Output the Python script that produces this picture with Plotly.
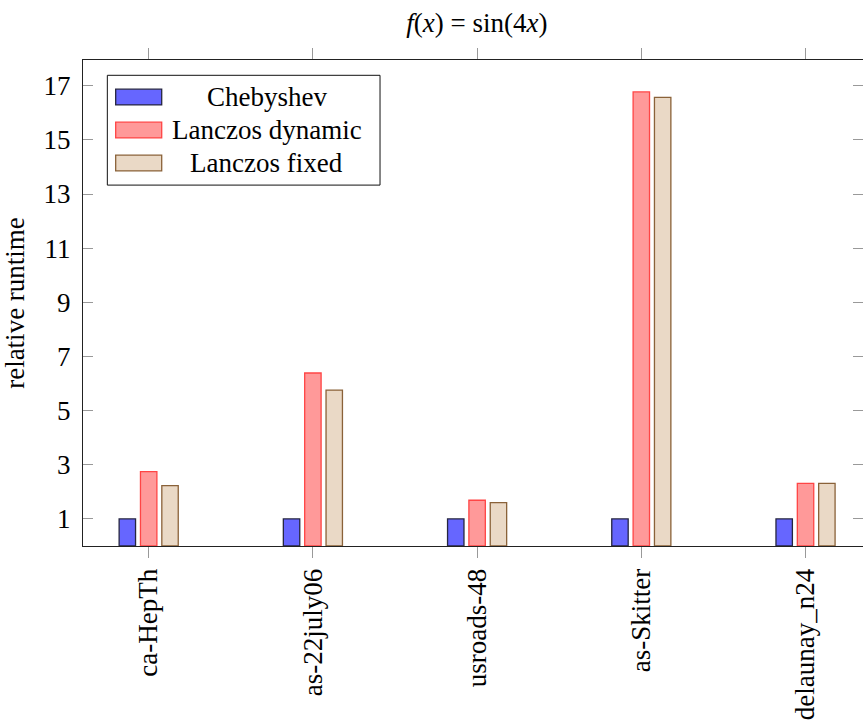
import plotly.graph_objects as go

categories = ["ca-HepTh", "as-22july06", "usroads-48", "as-Skitter", "delaunay_n24"]
series_names = ["Chebyshev", "Lanczos dynamic", "Lanczos fixed"]
chebyshev = [1.0, 1.0, 1.0, 1.0, 1.0]
lanczos_dynamic = [2.75, 6.39, 1.69, 16.77, 2.31]
lanczos_fixed = [2.23, 5.76, 1.60, 16.57, 2.31]
y_ticks = [1, 3, 5, 7, 9, 11, 13, 15, 17]

series_values = [chebyshev, lanczos_dynamic, lanczos_fixed]
fills = ["#6666FF", "#FF9999", "#EAD9C6"]
borders = ["#262640", "#FF4545", "#8A6239"]
offsets = [-0.18, -0.05, 0.08]
BAR_W = 0.1

FONT = "Liberation Serif"
FS = 27

fig = go.Figure()
xs = list(range(len(categories)))
for name, vals, fc, lc, off in zip(series_names, series_values, fills, borders, offsets):
    fig.add_trace(go.Bar(
        x=xs, y=vals, name=name, width=BAR_W, offset=off,
        marker=dict(color=fc, line=dict(color=lc, width=1.3)),
        showlegend=False,
    ))

# Legend drawn in paper coordinates
L_X0, L_X1, L_Y0, L_Y1 = 0.0312, 0.3808, 0.7426, 0.9685
SW_X0, SW_X1, SW_H = 0.0419, 0.1009, 0.0162
rows_y = [0.9238, 0.8559, 0.7879]
TXT_X = 0.2355
shapes = [dict(type="rect", xref="paper", yref="paper", x0=L_X0, x1=L_X1, y0=L_Y0, y1=L_Y1,
               line=dict(color="#111", width=1), fillcolor="white", layer="above")]
annotations = []
for name, fc, lc, ry in zip(series_names, fills, borders, rows_y):
    shapes.append(dict(type="rect", xref="paper", yref="paper", x0=SW_X0, x1=SW_X1,
                       y0=ry - SW_H, y1=ry + SW_H, line=dict(color=lc, width=1.3),
                       fillcolor=fc, layer="above"))
    annotations.append(dict(xref="paper", yref="paper", x=TXT_X, y=ry, text=name,
                            showarrow=False, xanchor="center", yanchor="middle",
                            font=dict(family=FONT, size=FS, color="black")))

fig.update_layout(
    width=863, height=721,
    margin=dict(l=83, r=0, t=60, b=175),
    paper_bgcolor="white", plot_bgcolor="white",
    barmode="overlay",
    font=dict(family=FONT, size=FS, color="black"),
    title=dict(text="<i>f</i>(<i>x</i>)&nbsp;=&nbsp;sin(4<i>x</i>)", x=0.5525, xanchor="center",
               y=0.969, yanchor="middle", font=dict(family=FONT, size=FS, color="black")),
    shapes=shapes, annotations=annotations,
    xaxis=dict(range=[-0.4, 4.35], tickvals=xs, ticktext=categories, tickangle=-90,
               showline=True, linecolor="#222", linewidth=1, mirror="ticks",
               ticks="outside", ticklen=11, tickcolor="#999", tickwidth=1,
               showgrid=False, zeroline=False),
    yaxis=dict(range=[0, 17.95], tickvals=y_ticks, showline=True, linecolor="#222",
               linewidth=1, mirror="ticks", ticks="inside", ticklen=10, tickcolor="#999",
               tickwidth=1, showgrid=False, zeroline=False, ticklabelstandoff=6,
               title=dict(text="relative runtime", standoff=14,
                          font=dict(family=FONT, size=FS))),
)

fig.write_html(
    "out.html",
    config={"displayModeBar": False},
    post_script=(
        "document.body.style.margin='0';"
        "document.body.style.overflow='hidden';"
        "document.documentElement.style.overflow='hidden';"
    ),
)
